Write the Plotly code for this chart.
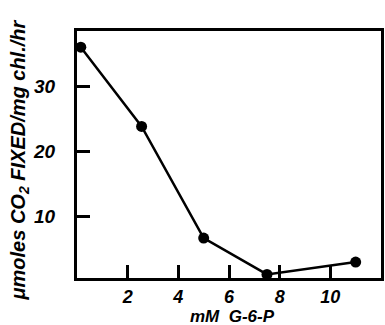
import plotly.graph_objects as go

# Data
g6p_mM = [0.15, 2.55, 5.0, 7.5, 11.0]
co2_fixed = [36.0, 23.8, 6.6, 1.0, 2.9]

x_tickvals = [2, 4, 6, 8, 10]
x_ticktext = ["2", "4", "6", "8", "10"]
y_tickvals = [10, 20, 30]
y_ticktext = ["10", "20", "30"]

x_title = "mM  G-6-P"
y_title = "μmoles CO<sub>2</sub> FIXED/mg chl./hr"

font_family = "Liberation Sans, Arial, sans-serif"

fig = go.Figure()
fig.add_trace(go.Scatter(
    x=g6p_mM, y=co2_fixed, mode="lines+markers",
    line=dict(color="black", width=2.5),
    marker=dict(color="black", size=11),
    showlegend=False, cliponaxis=False,
))

fig.update_layout(
    width=385, height=325,
    margin=dict(l=77, r=1, t=31, b=47),
    paper_bgcolor="white", plot_bgcolor="white",
    font=dict(family=font_family, color="black", size=15, weight="bold", style="italic"),
)
fig.update_xaxes(
    range=[0, 12.0], showgrid=False, zeroline=False,
    showline=True, linewidth=3, linecolor="black", mirror=True,
    ticks="inside", ticklen=13, tickwidth=2.5, tickcolor="black",
    tickvals=x_tickvals, ticktext=x_ticktext,
    tickfont=dict(size=18, weight="bold", style="italic"),
    ticklabelstandoff=0,
)
fig.update_yaxes(
    range=[0.45, 38.5], showgrid=False, zeroline=False,
    showline=True, linewidth=3, linecolor="black", mirror=True,
    ticks="inside", ticklen=13, tickwidth=2.5, tickcolor="black",
    tickvals=y_tickvals, ticktext=y_ticktext,
    tickfont=dict(size=19, weight="bold", style="italic"),
    ticklabelstandoff=15,
)
fig.add_annotation(
    text=x_title, xref="paper", yref="paper", x=0.51, y=0,
    xanchor="center", yanchor="middle", yshift=-38, showarrow=False,
    font=dict(size=17, weight="bold", style="italic"),
)
fig.add_annotation(
    text=y_title, xref="paper", yref="paper", x=0, y=0.5,
    xanchor="center", yanchor="middle", xshift=-58, yshift=-6, textangle=-90,
    showarrow=False,
    font=dict(size=20, weight="bold", style="italic"),
)

fig.write_html("out.html")
